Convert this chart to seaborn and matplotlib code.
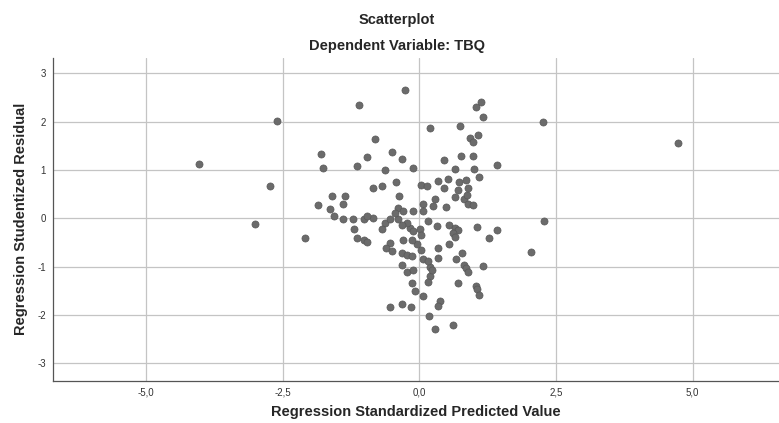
import matplotlib
matplotlib.use('Agg')
import matplotlib.pyplot as plt
import seaborn as sns
import pandas as pd

pred_std = [
    -4.02, -3.00, -2.73, -2.61, -2.09, -1.85, -1.80, -1.76, -1.63, -1.60,
    -1.56, -1.39, -1.36, -1.39, -1.21, -1.19, -1.14, -1.02, -0.96, -1.02,
    -1.13, -1.10, -0.96, -0.81, -0.85, -0.69, -0.63, -0.49, -0.32, -0.26,
    -0.43, -0.37, -0.12, 0.03, 0.15, 0.20, 0.46, 0.35, 0.52, 0.46,
    0.29, 0.26, 0.49, 0.65, 0.73, 0.70, 0.66, 0.82, 0.87, 0.86,
    0.90, 0.90, 0.99, 0.76, 0.99, 0.74, 0.93, 0.98, 1.08, 1.00,
    1.09, 1.13, 1.03, 1.16, 1.43, 2.26, 4.73, 2.28, 2.04, 1.43,
    1.28, 1.06, 1.17, 1.04, 1.06, 1.10, 0.71, 0.82, 0.85, 0.90,
    0.67, 0.79, 0.55, 0.55, 0.65, 0.71, 0.62, 0.65, 0.32, 0.16,
    0.35, 0.35, 0.38, 0.35, 0.20, 0.16, 0.20, 0.23, -0.14, -0.08,
    0.06, -0.54, -0.32, -0.16, 0.18, 0.62, 0.29, -0.23, -0.11, -0.32,
    0.07, 0.16, -0.32, -0.23, -0.14, -0.54, -0.60, -0.50, 0.04, -0.05,
    -0.29, -0.14, -0.17, -0.11, 0.01, 0.04, -0.38, -0.23, -0.63, -0.54,
    -0.69, -0.84, -0.95, -0.38, -0.29, -0.44, -0.11, 0.07, 0.07, -0.32,
]
resid_stud = [
    1.12, -0.12, 0.67, 2.02, -0.41, 0.27, 1.34, 1.05, 0.19, 0.46,
    0.04, 0.30, 0.46, -0.01, -0.01, -0.22, -0.41, -0.45, -0.48, -0.01,
    1.09, 2.34, 1.27, 1.64, 0.63, 0.66, 1.00, 1.37, 1.22, 2.66,
    0.76, 0.47, 1.05, 0.70, 0.67, 1.86, 1.20, 0.78, 0.82, 0.63,
    0.41, 0.25, 0.24, 1.03, 0.75, 0.59, 0.45, 0.41, 0.49, 0.79,
    0.62, 0.30, 0.27, 1.29, 1.29, 1.92, 1.67, 1.58, 1.73, 1.02,
    0.86, 2.41, 2.31, 2.09, 1.11, 1.99, 1.56, -0.05, -0.69, -0.25,
    -0.41, -0.18, -0.98, -1.41, -1.47, -1.58, -1.34, -0.96, -1.03, -1.10,
    -0.84, -0.71, -0.53, -0.13, -0.20, -0.24, -0.31, -0.38, -0.16, -0.06,
    -0.61, -0.82, -1.72, -1.81, -1.20, -1.31, -1.00, -1.07, -1.34, -1.50,
    -1.60, -1.83, -1.78, -1.83, -2.02, -2.20, -2.29, -1.10, -1.07, -0.96,
    -0.85, -0.89, -0.71, -0.75, -0.78, -0.51, -0.61, -0.68, -0.65, -0.54,
    -0.44, -0.44, -0.20, -0.27, -0.23, -0.34, -0.02, -0.09, -0.09, -0.02,
    -0.23, 0.01, 0.04, 0.22, 0.15, 0.11, 0.15, 0.29, 0.15, -0.13,
]

xticks = [-5.0, -2.5, 0.0, 2.5, 5.0]
xtick_labels = ["-5,0", "-2,5", "0,0", "2,5", "5,0"]
yticks = [-3, -2, -1, 0, 1, 2, 3]

df = pd.DataFrame({"pred": pred_std, "resid": resid_stud})

sns.set_style("white")
plt.rcParams['font.family'] = ['Liberation Sans', 'DejaVu Sans']
plt.rcParams['axes.unicode_minus'] = False

fig = plt.figure(figsize=(7.79, 4.23), dpi=100)
ax = fig.add_axes([0.068, 0.100, 0.932, 0.763])

sns.scatterplot(data=df, x="pred", y="resid", ax=ax, s=26,
                color="#6b6b6b", edgecolor="#585858", linewidth=0.5, zorder=3)

ax.set_xlim(-6.70, 6.58)
ax.set_ylim(-3.36, 3.32)
ax.set_xticks(xticks)
ax.set_xticklabels(xtick_labels)
ax.set_yticks(yticks)
ax.grid(True, color="#c4c4c4", linewidth=0.9)
ax.set_axisbelow(True)
ax.tick_params(length=0, labelsize=7, colors="#333333", pad=5)

for lado in ["top", "right"]:
    ax.spines[lado].set_visible(False)
for lado in ["left", "bottom"]:
    ax.spines[lado].set_color("#555555")
    ax.spines[lado].set_linewidth(0.9)

ax.set_xlabel("Regression Standardized Predicted Value", fontsize=10.5,
              fontweight="bold", labelpad=5)
ax.set_ylabel("Regression Studentized Residual", fontsize=10.5,
              fontweight="bold", labelpad=7)

fig.text(397 / 779, 1 - 20 / 423, "Scatterplot", ha="center", va="center",
         fontsize=10.5, fontweight="bold")
fig.text(397 / 779, 1 - 46 / 423, "Dependent Variable: TBQ", ha="center",
         va="center", fontsize=10.5, fontweight="bold")

fig.savefig("out.png", dpi=100)
plt.close(fig)
